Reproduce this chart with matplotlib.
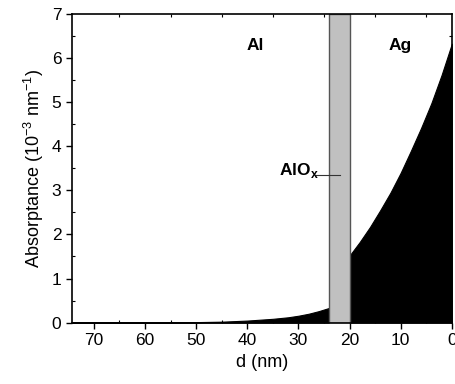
import numpy as np
import matplotlib.pyplot as plt
from matplotlib.ticker import MultipleLocator

plt.rcParams['font.family'] = ['Liberation Sans', 'DejaVu Sans']
plt.rcParams['mathtext.fontset'] = 'custom'
plt.rcParams['mathtext.rm'] = 'Liberation Sans'
plt.rcParams['mathtext.bf'] = 'Liberation Sans:bold'

# absorptance profile (10^-3 nm^-1) vs depth d (nm)
d_al = [74.3, 70, 60, 55, 50, 45, 40, 35, 32, 30, 28, 26, 24.06]
a_al = [0.0, 0.001, 0.003, 0.006, 0.01, 0.02, 0.045, 0.085, 0.12, 0.155, 0.2, 0.26, 0.33]
d_ag = [20, 18, 16, 14, 12, 10, 8, 6, 4, 2, 0]
a_ag = [1.52, 1.83, 2.17, 2.55, 2.95, 3.4, 3.9, 4.42, 4.98, 5.62, 6.33]
oxide = (20, 24.06)

fig = plt.figure(figsize=(4.55, 3.84), dpi=100)
ax = fig.add_axes([0.158, 0.160, 0.835, 0.803])

ax.fill_between(d_al, a_al, 0, color='black', lw=0.8)
ax.fill_between(d_ag, a_ag, 0, color='black', lw=0.8)
ax.axvspan(oxide[0], oxide[1], facecolor='#c0c0c0', edgecolor='#555555', lw=1.0)

ax.text(38.4, 6.3, 'Al', fontsize=12.5, fontweight='bold', ha='center', va='center')
ax.text(10, 6.3, 'Ag', fontsize=12.5, fontweight='bold', ha='center', va='center')
ax.text(26.0, 3.45, r'AlO$_\mathbf{x}$', fontsize=12.5, fontweight='bold',
        ha='right', va='center')
ax.plot([26.5, 21.8], [3.34, 3.34], color='#333333', lw=0.8)

ax.set_xlim(74.3, 0)
ax.set_ylim(0, 7)
ax.xaxis.set_major_locator(MultipleLocator(10))
ax.xaxis.set_minor_locator(MultipleLocator(5))
ax.yaxis.set_major_locator(MultipleLocator(1))
ax.yaxis.set_minor_locator(MultipleLocator(0.5))
ax.tick_params(which='major', direction='out', length=4, width=1, labelsize=12.5)
ax.tick_params(which='minor', direction='in', length=2.5, width=0.8)
ax.tick_params(which='both', top=True, right=True)
ax.tick_params(which='major', axis='x', top=False)
ax.tick_params(which='major', axis='y', right=False)
for s in ax.spines.values():
    s.set_linewidth(1.2)

ax.set_xlabel('d (nm)', fontsize=13)
ax.set_ylabel(r'Absorptance (10$^{\mathregular{-3}}$ nm$^{\mathregular{-1}}$)', fontsize=13)

fig.savefig('out.png', dpi=100)
